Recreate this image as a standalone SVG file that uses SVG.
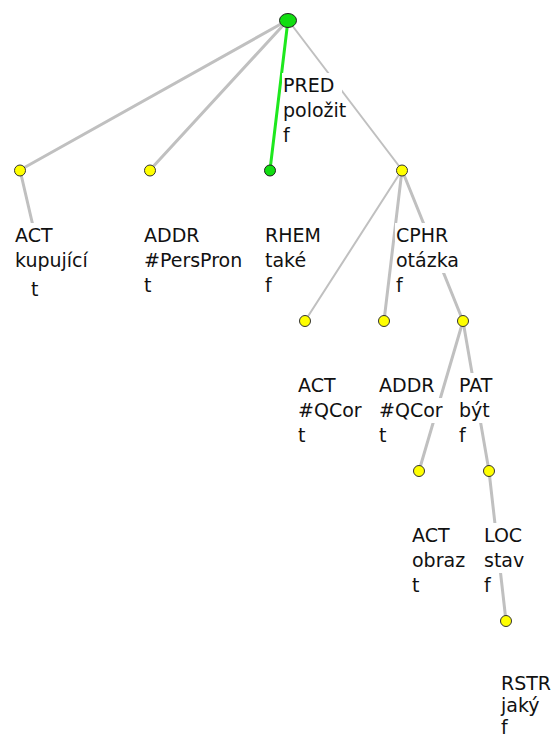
<svg xmlns="http://www.w3.org/2000/svg" width="559" height="740" viewBox="0 0 559 740">
<style>
.e{stroke:#c0c0c0;stroke-width:3;fill:none;stroke-linecap:round}
.t{stroke-width:2}
.g{stroke:#1ee81e;stroke-width:3}
.y{fill:#ffff00;stroke:#333;stroke-width:1}
.gn{fill:#11dd11;stroke:#222;stroke-width:1}
.bg{fill:#fff}
text{font-family:"DejaVu Sans",sans-serif;font-size:19px;fill:#111}
</style>
<rect width="559" height="740" fill="#fff"/>
<g id="connectors">
<line class="e" x1="288" y1="20" x2="20" y2="170"/>
<line class="e" x1="288" y1="20" x2="150" y2="170"/>
<line class="e t" x1="288" y1="20" x2="402" y2="170"/>
<line class="e g" x1="288" y1="20" x2="270" y2="170"/>
<line class="e" x1="20" y1="170" x2="33" y2="226"/>
<line class="e t" x1="402" y1="170" x2="305" y2="321"/>
<line class="e" x1="402" y1="170" x2="384" y2="321"/>
<line class="e" x1="402" y1="170" x2="463" y2="321"/>
<line class="e" x1="463" y1="321" x2="419" y2="471"/>
<line class="e" x1="463" y1="321" x2="489" y2="471"/>
<line class="e" x1="489" y1="471" x2="506" y2="621"/>
</g>
<g id="n-pred">
<rect class="bg" x="282" y="73" width="60" height="25"/>
<rect class="bg" x="282" y="98" width="64" height="25"/>
<ellipse class="gn" cx="288" cy="20.5" rx="8.5" ry="7"/>
<text x="283" y="92">PRED</text><text x="283" y="117">položit</text><text x="283" y="142">f</text>
</g>
<g id="n-act1">
<rect class="bg" x="14" y="223" width="40" height="25"/>
<rect class="bg" x="14" y="248" width="75" height="25"/>
<circle class="y" cx="20" cy="170.5" r="5.5"/>
<text x="15" y="242">ACT</text><text x="15" y="267">kupující</text><text x="31" y="296">t</text>
</g>
<g id="n-addr1">
<circle class="y" cx="150" cy="170.5" r="5.5"/>
<text x="144" y="242">ADDR</text><text x="144" y="267">#PersPron</text><text x="144" y="292">t</text>
</g>
<g id="n-rhem">
<circle class="gn" cx="270" cy="170.5" r="5.5"/>
<text x="265" y="242">RHEM</text><text x="265" y="267">také</text><text x="265" y="292">f</text>
</g>
<g id="n-cphr">
<rect class="bg" x="395" y="223" width="64" height="25"/>
<rect class="bg" x="395" y="248" width="68" height="25"/>
<circle class="y" cx="402" cy="170.5" r="5.5"/>
<text x="396" y="242">CPHR</text><text x="396" y="267">otázka</text><text x="396" y="292">f</text>
</g>
<g id="n-act2">
<circle class="y" cx="305" cy="321" r="5.5"/>
<text x="298" y="392">ACT</text><text x="298" y="417">#QCor</text><text x="298" y="442">t</text>
</g>
<g id="n-addr2">
<rect class="bg" x="378" y="398" width="66" height="25"/>
<circle class="y" cx="384" cy="321" r="5.5"/>
<text x="379" y="392">ADDR</text><text x="379" y="417">#QCor</text><text x="379" y="442">t</text>
</g>
<g id="n-pat">
<rect class="bg" x="458" y="373" width="40" height="25"/>
<rect class="bg" x="458" y="398" width="34" height="25"/>
<circle class="y" cx="463" cy="321" r="5.5"/>
<text x="459" y="392">PAT</text><text x="459" y="417">být</text><text x="459" y="442">f</text>
</g>
<g id="n-act3">
<circle class="y" cx="419" cy="471" r="5.5"/>
<text x="412" y="542">ACT</text><text x="412" y="567">obraz</text><text x="412" y="592">t</text>
</g>
<g id="n-loc">
<rect class="bg" x="483" y="523" width="42" height="25"/>
<rect class="bg" x="483" y="548" width="42" height="25"/>
<circle class="y" cx="489" cy="471" r="5.5"/>
<text x="484" y="542">LOC</text><text x="484" y="567">stav</text><text x="484" y="592">f</text>
</g>
<g id="n-rstr">
<circle class="y" cx="506" cy="621" r="5.5"/>
<text x="501" y="690">RSTR</text><text x="501" y="712">jaký</text><text x="501" y="734">f</text>
</g>
</svg>
